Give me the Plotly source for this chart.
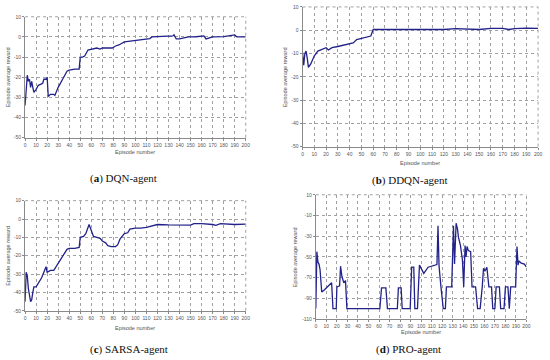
import plotly.graph_objects as go

# ---------------- data ----------------
dqn_x = [0, 1, 2, 3, 4, 5, 6, 7, 8, 10, 12, 14, 16, 17, 19, 20, 21, 23, 26, 27, 30, 35, 38, 40, 45, 49, 50, 52, 54, 57, 60, 63, 65, 68, 70, 75, 79, 82, 85, 90, 95, 100, 105, 110, 113, 115, 120, 130, 134, 135, 137, 140, 145, 148, 155, 160, 162, 164, 167, 170, 180, 185, 188, 190, 192, 200]
dqn_y = [-34, -25, -19, -22, -21, -25, -22, -25, -27.5, -26, -24, -23.5, -23, -21, -21, -20, -29.5, -28.5, -28.5, -29, -25, -20, -17, -16.5, -16, -16, -10, -10, -9.5, -6.5, -6, -5.5, -5.5, -6, -5.5, -5.5, -5.5, -4.5, -4, -2.5, -2.2, -1.8, -1.5, -1, -0.8, 0, 0.2, 0.3, 0.5, 1, -1, -1, -0.5, 0, 0.1, 0.3, 0.5, -1, -0.5, 0, 0.2, 0.5, 1, 1, 0, 0]

ddqn_x = [0, 1, 2, 3, 4, 5, 7, 10, 13, 15, 18, 20, 22, 25, 30, 35, 40, 43, 46, 50, 55, 58, 60, 70, 80, 90, 100, 110, 120, 130, 140, 150, 160, 170, 175, 180, 190, 200]
ddqn_y = [-9.5, -15, -10, -9, -12, -16, -14.5, -11, -9, -8.5, -8, -7.5, -8.5, -7.5, -7, -6.5, -6, -5.5, -4, -3.5, -3, -2.5, 0.3, 0.3, 0.5, 0.3, 0.3, 0.3, 0.3, 0.7, 0.5, 0.3, 0.8, 0.8, 0.3, 0.7, 0.9, 0.8]

sarsa_x = [0, 1, 2, 3, 5, 6, 7, 8, 10, 12, 15, 17, 19, 20, 21, 23, 26, 30, 35, 38, 40, 45, 49, 50, 53, 55, 58, 60, 62, 65, 68, 70, 73, 75, 78, 82, 84, 86, 88, 90, 93, 95, 100, 105, 110, 113, 115, 120, 130, 140, 150, 153, 160, 170, 173, 177, 185, 190, 200]
sarsa_y = [-45, -29, -31, -38, -45, -44, -40, -37, -37, -35, -32, -29, -26, -29, -28.5, -28, -28, -24, -19, -16.5, -16, -16, -15.5, -10, -9.5, -8, -3, -6, -9.5, -10, -10.5, -12, -13, -14.5, -15, -15, -14, -11, -9.5, -8, -7.5, -5.5, -5, -5, -4.5, -4, -3.5, -3, -3.2, -3.2, -3.3, -2.5, -2.5, -3, -3.5, -2.5, -2.8, -3, -2.8]

pro_x = [0, 0.5, 1, 2, 3, 4, 5.6, 8, 10, 13, 15, 16.3, 19.4, 20, 22.6, 23.5, 24.8, 26.6, 28.2, 29.5, 60.8, 62.4, 66.5, 68, 77.4, 78.4, 81, 82, 89.6, 91, 93, 94, 96.5, 98.4, 102.5, 106.6, 110, 115, 116, 117, 118.8, 121, 123, 124, 129, 130.7, 131.7, 133.2, 134.5, 135.4, 137.3, 139.2, 140.4, 141.7, 142.6, 143.6, 144.8, 147, 148.3, 151.7, 153.6, 156, 158, 159.2, 160.5, 162.4, 164.3, 166.8, 168, 170, 171.2, 174.3, 175.5, 178.7, 180, 182.4, 183.7, 185, 189.7, 191, 192, 192.8, 195, 198, 200]
pro_y = [-100, -75, -45, -55, -57, -62, -84, -82, -80, -76, -75, -100, -100, -79, -78, -59, -69, -75, -73, -100, -100, -80, -80, -100, -100, -80, -80, -100, -100, -60, -60, -100, -100, -58, -66, -60, -59, -57.5, -20, -59, -79, -100, -100, -79, -79, -20, -57, -17.5, -23, -31, -39, -53, -79, -39, -50, -40, -44, -45, -79, -79, -100, -100, -79, -61, -64, -60, -79, -79, -100, -100, -79, -79, -100, -100, -79, -79, -100, -79, -79, -40, -58, -54, -56, -57, -60]

x_ticks = list(range(0, 201, 10))
y_ticks_std = [10, 0, -10, -20, -30, -40, -50]
y_ticks_pro = [10, -10, -30, -50, -70, -90, -110]
caption_labels = ["a", "b", "c", "d"]
caption_names = ["DQN-agent", "DDQN-agent", "SARSA-agent", "PRO-agent"]
x_title = "Episode number"
y_title = "Episode average reward"

# ---------------- layout ----------------
W, H = 550, 360
LINE = "#22228a"
GRID = "#a0a0a0"
SANS = "Liberation Sans, Arial, sans-serif"
panels = [
    # (x0px, x1px, ytop, ybot, xdata, ydata, yrange, yticks, xtitle_y, ytitle_x, caption_x, caption_y)
    (24.3, 247, 14, 137, dqn_x, dqn_y, [-50, 10], y_ticks_std, 152, 7, 124, 178),
    (304.3, 542, 4, 146, ddqn_x, ddqn_y, [-50, 10], y_ticks_std, 163, 286, 412, 181),
    (24.3, 247, 201, 313, sarsa_x, sarsa_y, [-50, 10], y_ticks_std, 330, 7, 129, 352),
    (317.7, 530.3, 195, 321.3, pro_x, pro_y, [-110, 10], y_ticks_pro, 335, 297, 411, 352),
]

fig = go.Figure()
annotations = []
layout = dict(
    width=W, height=H, margin=dict(l=0, r=0, t=0, b=0),
    paper_bgcolor="white", plot_bgcolor="white", showlegend=False,
)
tickfont = dict(family=SANS, size=5, color="#555555")
for i, (x0, x1, yt, yb, xs, ys, yr, yt_vals, xty, ytx, cx, cy) in enumerate(panels):
    n = "" if i == 0 else str(i + 1)
    fig.add_trace(go.Scatter(x=xs, y=ys, mode="lines",
                             line=dict(color=LINE, width=1.3),
                             xaxis="x" + n, yaxis="y" + n, hoverinfo="skip"))
    layout["xaxis" + n] = dict(
        domain=[x0 / W, x1 / W], anchor="y" + n, range=[0, 200],
        tickvals=x_ticks, ticktext=[str(v) for v in x_ticks],
        showgrid=True, gridcolor=GRID, griddash="dot", gridwidth=1,
        showline=True, linecolor="#8a8a8a", linewidth=1, mirror=False,
        ticks="outside", ticklen=2, tickcolor="#8a8a8a", tickfont=tickfont,
        zeroline=False, fixedrange=True, tickangle=0,
    )
    layout["yaxis" + n] = dict(
        domain=[1 - yb / H, 1 - yt / H], anchor="x" + n, range=yr,
        tickvals=yt_vals, ticktext=[str(v) for v in yt_vals],
        showgrid=True, gridcolor=GRID, griddash="dot", gridwidth=1,
        showline=True, linecolor="#8a8a8a", linewidth=1,
        ticks="outside", ticklen=2, tickcolor="#8a8a8a", tickfont=tickfont,
        zeroline=False, fixedrange=True,
    )
    # top/right dotted frame
    fig.add_shape(type="line", xref="paper", yref="paper",
                  x0=x0 / W, x1=x1 / W, y0=1 - yt / H, y1=1 - yt / H,
                  line=dict(color=GRID, width=1, dash="dot"))
    fig.add_shape(type="line", xref="paper", yref="paper",
                  x0=x1 / W, x1=x1 / W, y0=1 - yb / H, y1=1 - yt / H,
                  line=dict(color=GRID, width=1, dash="dot"))
    annotations.append(dict(text=x_title, xref="paper", yref="paper",
                            x=(x0 + x1) / 2 / W, y=1 - xty / H, showarrow=False,
                            font=dict(family=SANS, size=5.5, color="#555555"),
                            xanchor="center", yanchor="middle"))
    annotations.append(dict(text=y_title, xref="paper", yref="paper",
                            x=ytx / W, y=1 - (yt + yb) / 2 / H, showarrow=False, textangle=-90,
                            font=dict(family=SANS, size=5.5, color="#555555"),
                            xanchor="center", yanchor="middle"))
    annotations.append(dict(text="(<b>" + caption_labels[i] + "</b>) " + caption_names[i],
                            xref="paper", yref="paper", x=cx / W, y=1 - cy / H, showarrow=False,
                            font=dict(family="Liberation Serif, Times New Roman, serif", size=11, color="#111111"),
                            xanchor="center", yanchor="middle"))

layout["annotations"] = annotations
fig.update_layout(**layout)
fig.write_html("out.html", config={"displayModeBar": False, "staticPlot": True},
               post_script="document.body.style.margin='0';document.body.style.overflow='hidden';")
